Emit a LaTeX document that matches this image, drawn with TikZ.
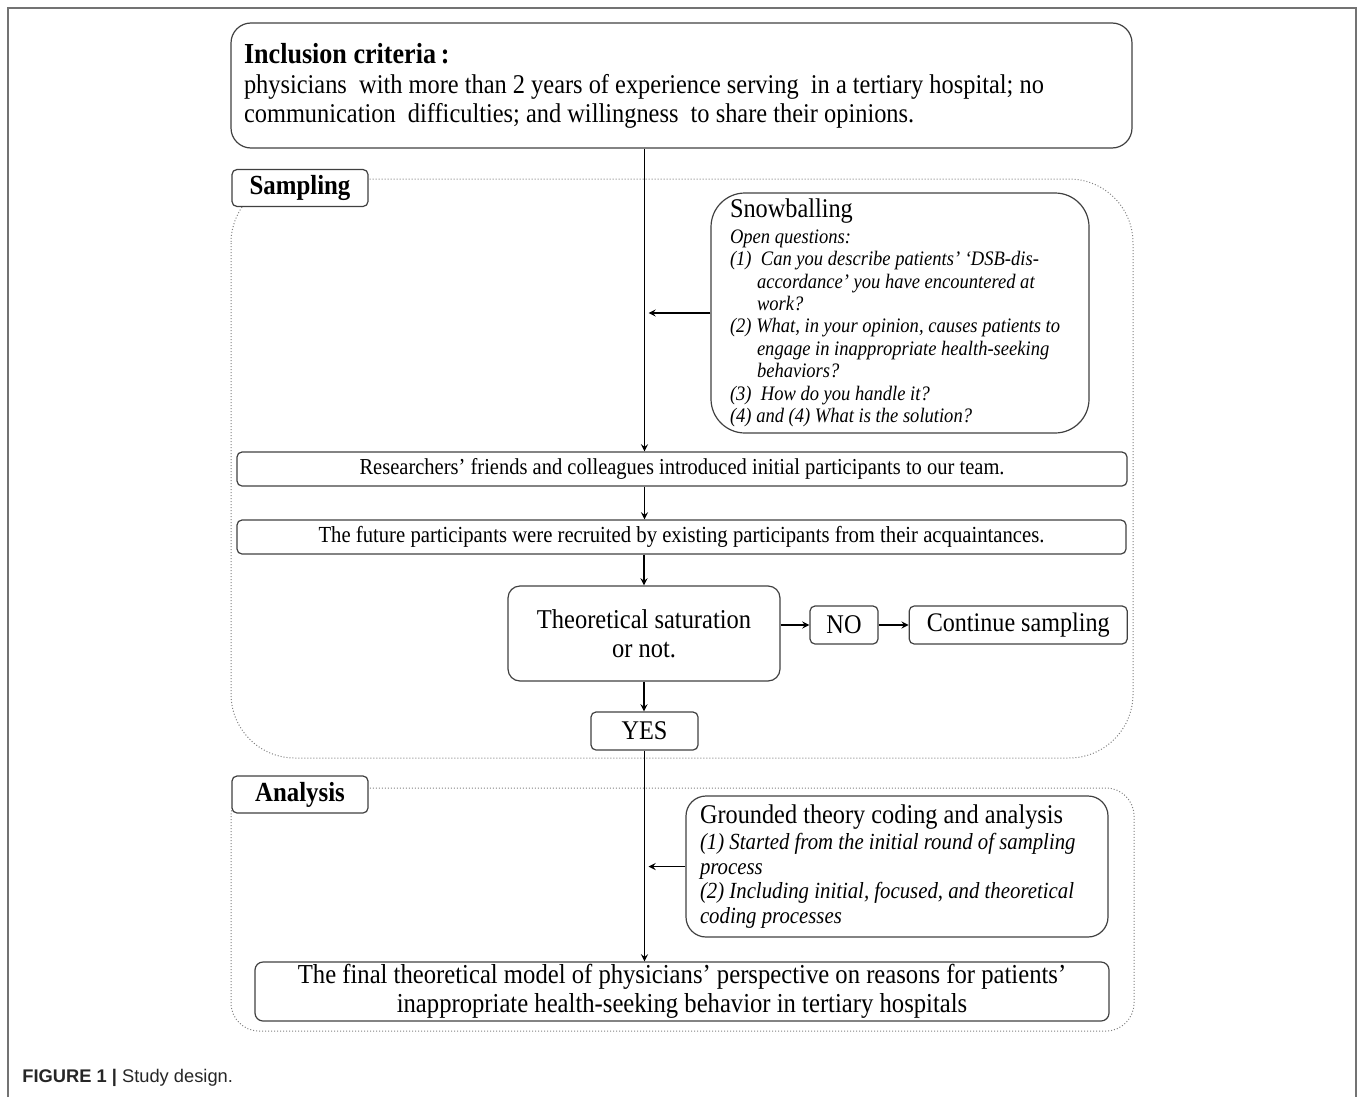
\documentclass[tikz,border=0pt]{standalone}
\usepackage{fontspec}
\setmainfont[FakeStretch=0.9]{Liberation Serif}
\newfontfamily\capfont{Liberation Sans}
\usetikzlibrary{positioning}

\begin{document}
\begin{tikzpicture}[x=0.5pt,y=-0.5pt]
        \tikzstyle{every node}=[inner sep=0pt]
        \tikzstyle{box}=[draw=black!75, line width=0.6pt, rounded corners=2.5pt, align=center]
        \tikzstyle{region}=[draw=black!50, densely dotted, line width=0.5pt]
        \tikzstyle{tag}=[box, fill=white, font=\bfseries\fontsize{13.8}{15}\selectfont, minimum width=68pt, minimum height=18.5pt]
        \tikzstyle{arr}=[->, >=stealth, line width=0.6pt]

        \useasboundingbox (0,0) rectangle (1358,1097);
        \draw[black!55, line width=1pt] (8,1097) -- (8,8) -- (1356,8) -- (1356,1097);

        % the two stages
        \draw[region, rounded corners=32pt] (231,179) rectangle (1133,758);
        \draw[region, rounded corners=14pt] (231,788) rectangle (1134,1031);

        \node (incl) [box, rounded corners=10pt, minimum width=450.5pt, minimum height=62.5pt, text width=437.5pt, align=flush left, font=\fontsize{13.55}{14.5}\selectfont] at (681.5,85.5)
            {{\bfseries\fontsize{14.5}{16}\selectfont Inclusion criteria\,:}\\[0.5pt]
             physicians\ \ with more than 2 years of experience serving\ \ in a tertiary hospital;\ no\\
             communication\ \ difficulties;\ and willingness\ \ to share their opinions.};

        \node (samp) [tag] at (300,188) {Sampling};

        \node (snow) [box, rounded corners=17pt, minimum width=189pt, minimum height=120pt, text width=170pt, align=flush left, font=\fontsize{10.3}{11.2}\selectfont\itshape] at (900,313)
            {{\upshape\fontsize{13.5}{14}\selectfont Snowballing}\\[1.5pt]
             Open questions:\\
             (1)\ \ Can you describe patients’ ‘DSB-dis-\\
             \hspace*{13.5pt}accordance’ you have encountered at\\
             \hspace*{13.5pt}work?\\
             (2) What, in your opinion, causes patients to\\
             \hspace*{13.5pt}engage in inappropriate health-seeking\\
             \hspace*{13.5pt}behaviors?\\
             (3)\ \ How do you handle it?\\
             (4) and (4) What is the solution?};

        \node (res) [box, minimum width=445pt, minimum height=17pt, font=\fontsize{11.4}{13}\selectfont] at (682,469)
            {Researchers’ friends and colleagues introduced initial participants to our team.};
        \node (fut) [box, minimum width=444.5pt, minimum height=17pt, font=\fontsize{11.5}{13}\selectfont] at (681.5,537)
            {The future participants were recruited by existing participants from their acquaintances.};

        \node (theo) [box, rounded corners=6pt, minimum width=136pt, minimum height=47.5pt, font=\fontsize{13.6}{14.5}\selectfont] at (644,633.5)
            {Theoretical saturation\\or not.};
        \node (no) [box, minimum width=34pt, minimum height=19pt, font=\fontsize{13.5}{14.5}\selectfont] at (844,625) {NO};
        \node (cont) [box, minimum width=109pt, minimum height=19pt, font=\fontsize{13.4}{14.5}\selectfont, right=15pt of no] {Continue sampling};
        \node (yes) [box, minimum width=53.5pt, minimum height=19pt, font=\fontsize{13.5}{14.5}\selectfont] at (644.5,731) {YES};

        \node (anal) [tag] at (300,794.5) {Analysis};

        \node (grd) [box, rounded corners=10pt, minimum width=211pt, minimum height=70.5pt, text width=197pt, align=flush left, font=\fontsize{11.55}{12.35}\selectfont\itshape] at (897,866.5)
            {{\upshape\fontsize{13.5}{14}\selectfont Grounded theory coding and analysis}\\[0.7pt]
             (1) Started from the initial round of sampling\\
             process\\
             (2) Including initial, focused, and theoretical\\
             coding processes};

        \node (fin) [box, rounded corners=4pt, minimum width=427pt, minimum height=29.5pt, font=\fontsize{13.7}{14.5}\selectfont] at (682,991.5)
            {The final theoretical model of physicians’ perspective on reasons for patients’\\
             inappropriate health-seeking behavior in tertiary hospitals};

        \node (cap) [anchor=west, font=\capfont\fontsize{9.15}{11}\selectfont, text=black!85] at (22,1078)
            {\textbf{FIGURE 1 |} Study design.};

        % connectors
        \draw[arr] (incl.south -| yes) -- (res.north -| yes);
        \draw[arr, shorten >=2pt] (snow.west) -- (snow.west -| yes);
        \draw[arr] (res.south -| yes) -- (fut.north -| yes);
        \draw[arr] (fut.south -| theo) -- (theo.north);
        \draw[arr] (theo.east |- no) -- (no.west);
        \draw[arr] (no.east) -- (cont.west);
        \draw[arr] (theo.south) -- (yes.north -| theo);
        \draw[arr] (yes.south) -- (fin.north -| yes);
        \draw[arr, shorten >=2pt] (grd.west) -- (grd.west -| yes);

\end{tikzpicture}
\end{document}
